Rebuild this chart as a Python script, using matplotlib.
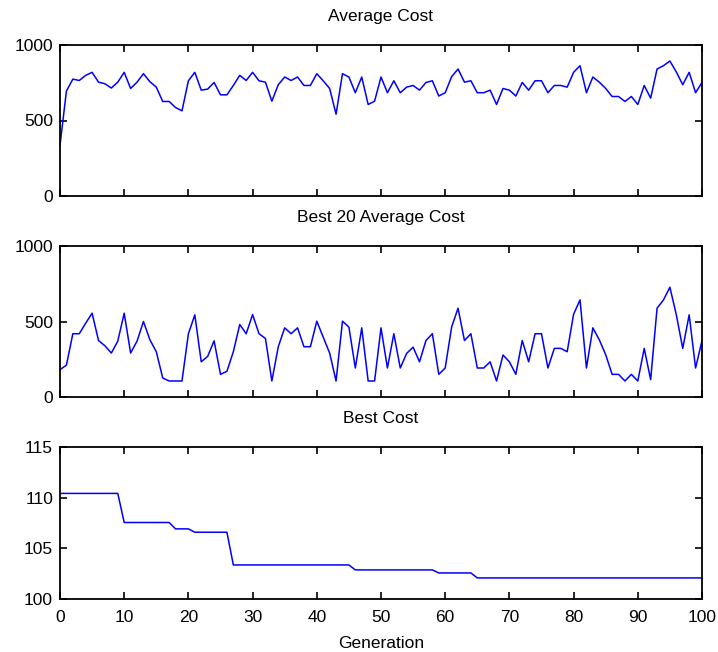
import numpy as np
import matplotlib
matplotlib.use("Agg")
import matplotlib.pyplot as plt

plt.rcParams['font.family'] = ['Liberation Sans', 'DejaVu Sans']
plt.rcParams['font.size'] = 12.5

generation = np.arange(0, 101)

avg_cost = [336, 695, 774, 765, 799, 819, 754, 743, 715, 754,
            819, 712, 754, 810, 757, 721, 626, 626, 586, 564,
            763, 819, 701, 708, 752, 670, 670, 732, 799, 765,
            819, 763, 754, 628, 737, 788, 765, 788, 732, 732,
            810, 763, 712, 542, 810, 788, 684, 788, 606, 628,
            788, 684, 763, 684, 721, 732, 701, 752, 763, 662,
            684, 790, 841, 754, 763, 684, 684, 701, 606, 712,
            701, 662, 752, 701, 763, 763, 684, 732, 732, 721,
            819, 863, 684, 788, 754, 712, 659, 659, 626, 659,
            606, 732, 648, 841, 863, 894, 821, 737, 819, 684,
            752]

best20_cost = [181, 211, 419, 419, 489, 555, 374, 339, 291, 370,
               555, 291, 370, 500, 379, 300, 126, 106, 106, 106,
               419, 544, 233, 269, 372, 150, 170, 300, 480, 419,
               546, 419, 388, 106, 333, 458, 419, 458, 333, 333,
               502, 396, 291, 106, 502, 463, 192, 458, 106, 106,
               458, 192, 419, 192, 289, 330, 233, 374, 419, 150,
               192, 463, 588, 374, 419, 192, 192, 233, 106, 278,
               233, 150, 374, 233, 419, 419, 192, 322, 322, 300,
               548, 643, 192, 458, 379, 280, 150, 150, 106, 150,
               106, 322, 115, 588, 643, 727, 544, 322, 544, 192,
               374]

best_cost = ([110.42] * 10 + [107.55] * 8 + [106.92] * 3 + [106.59] * 6
             + [103.36] * 19 + [102.87] * 13 + [102.57] * 6 + [102.08] * 36)

titles = ['Average Cost', 'Best 20 Average Cost', 'Best Cost']
series = [avg_cost, best20_cost, best_cost]
ylims = [(0, 1000), (0, 1000), (100, 115)]
yticks = [[0, 500, 1000], [0, 500, 1000], [100, 105, 110, 115]]

fig = plt.figure(figsize=(7.18, 6.52), dpi=100)
left, width = 60 / 718, 642 / 718
boxes = [(45, 196), (246, 397), (447, 599)]

for k in range(3):
    top, bot = boxes[k]
    ax = fig.add_axes([left, 1 - bot / 652, width, (bot - top) / 652])
    ax.plot(generation, series[k], color='#0000ff', linewidth=1.1)
    ax.set_xlim(0, 100)
    ax.set_ylim(*ylims[k])
    ax.set_yticks(yticks[k])
    ax.set_xticks(np.arange(0, 101, 10))
    ax.set_title(titles[k], fontsize=12.5, pad=17)
    ax.tick_params(direction='in', top=True, right=True, length=5, width=1.2)
    ax.tick_params(axis='x', pad=8)
    ax.tick_params(axis='y', pad=5)
    for sp in ax.spines.values():
        sp.set_linewidth(1.3)
    if k < 2:
        ax.set_xticklabels([])
    else:
        ax.set_xlabel('Generation', labelpad=8)

fig.savefig('out.png', dpi=100)
